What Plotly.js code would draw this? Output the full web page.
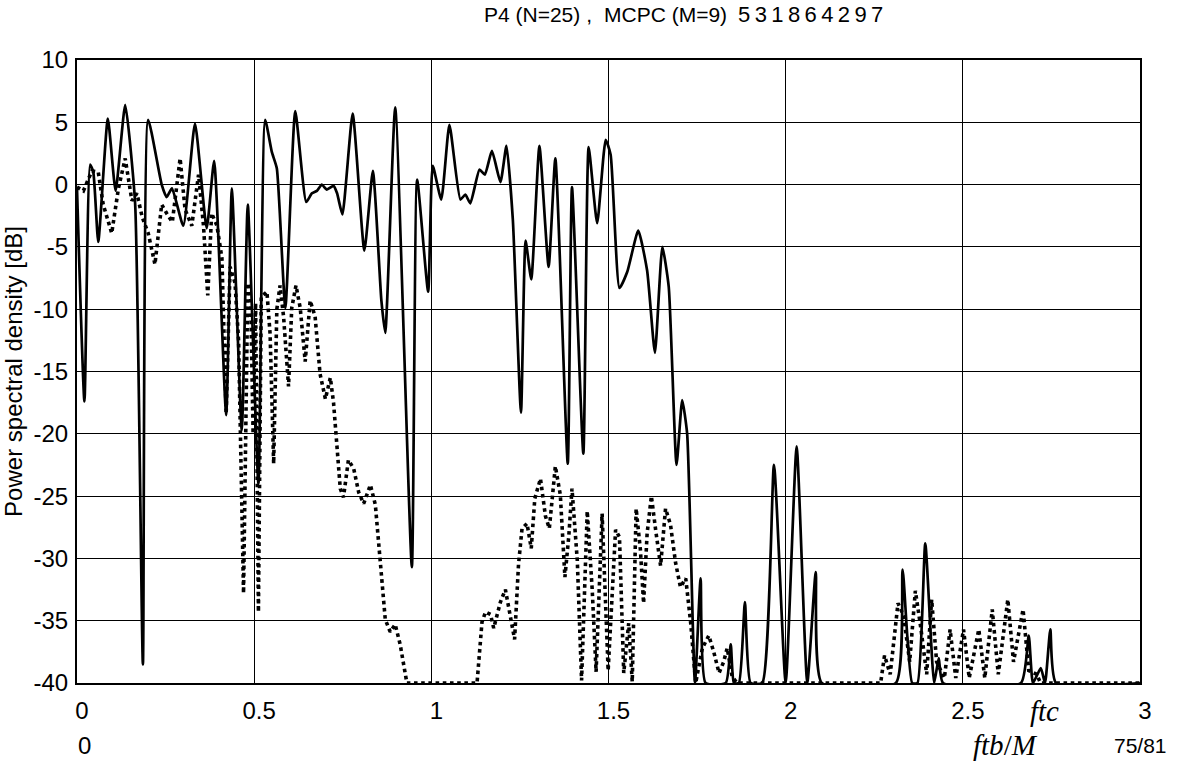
<!DOCTYPE html>
<html>
<head>
<meta charset="utf-8">
<script src="https://cdn.plot.ly/plotly-3.0.1.min.js"></script>
<style>html,body{margin:0;padding:0;background:#fff;}#chart{width:1183px;height:767px;}</style>
</head>
<body>
<div id="chart"></div>
<script>
// Solid curve: P4 (N=25)
var solidX = [0.000,0.021,0.037,0.046,0.060,0.087,0.109,0.136,0.164,0.186,0.201,0.239,0.253,0.268,0.300,0.333,0.366,0.387,0.421,0.437,0.465,0.482,0.512,0.531,0.550,0.564,0.588,0.616,0.647,0.663,0.677,0.691,0.705,0.724,0.734,0.749,0.778,0.811,0.835,0.859,0.870,0.898,0.945,0.960,0.991,1.004,1.028,1.051,1.082,1.096,1.110,1.136,1.151,1.171,1.195,1.212,1.230,1.253,1.266,1.282,1.305,1.331,1.350,1.385,1.397,1.429,1.444,1.468,1.492,1.506,1.531,1.553,1.584,1.609,1.631,1.652,1.670,1.692,1.708,1.722,1.744,1.760,1.774,1.831,1.845,1.854,1.868,1.885,1.901,1.934,1.967,2.000,2.031,2.061,2.085,2.102,2.311,2.330,2.357,2.372,2.394,2.419,2.432,2.444,2.664,2.686,2.698,2.720,2.732,2.747,2.763,3.000];
var solidY = [-0.3,-17.4,1.6,1.0,-4.6,5.3,-0.5,6.4,-1.5,-38.5,5.2,0.0,-1.0,-0.3,-3.3,4.9,-3.5,1.9,-18.5,-0.3,-19.7,-1.6,-24.0,5.2,2.6,1.3,-9.9,5.9,-1.4,-0.7,-0.5,0.0,-0.4,-0.1,-0.7,-2.4,5.7,-5.3,1.1,-9.3,-11.9,6.2,-30.7,0.4,-8.6,1.5,-1.2,4.8,-1.2,-0.8,-1.5,1.2,0.8,2.7,0.2,3.1,-2.8,-18.3,-4.5,-7.6,3.1,-6.6,2.1,-22.4,-0.2,-21.6,3.0,-3.1,3.6,2.4,-8.3,-7.0,-3.7,-6.9,-13.5,-5.0,-8.2,-22.5,-17.3,-20.0,-40,-31.6,-40,-40,-36.9,-40,-40,-33.5,-40,-40,-22.5,-40,-21.0,-40,-31.1,-40,-40,-30.9,-40,-40,-28.8,-40,-38.0,-40,-40,-36.2,-40,-38.8,-40,-35.7,-40,-40];

// Dotted curve: MCPC (M=9) 531864297
var dottedX = [0.000,0.018,0.042,0.060,0.074,0.098,0.117,0.136,0.155,0.169,0.184,0.201,0.220,0.239,0.253,0.269,0.291,0.305,0.324,0.343,0.357,0.369,0.380,0.395,0.409,0.421,0.432,0.446,0.456,0.470,0.482,0.490,0.497,0.504,0.512,0.520,0.536,0.545,0.555,0.564,0.573,0.583,0.597,0.606,0.618,0.630,0.644,0.658,0.672,0.686,0.701,0.715,0.724,0.734,0.743,0.752,0.766,0.781,0.795,0.809,0.828,0.842,0.856,0.870,0.884,0.898,0.912,0.931,1.129,1.143,1.153,1.167,1.176,1.195,1.209,1.223,1.235,1.246,1.256,1.270,1.282,1.292,1.308,1.322,1.333,1.350,1.364,1.377,1.388,1.397,1.412,1.424,1.440,1.454,1.465,1.482,1.499,1.520,1.531,1.543,1.557,1.567,1.578,1.590,1.599,1.609,1.621,1.633,1.647,1.661,1.675,1.689,1.703,1.718,1.732,1.746,1.765,1.783,1.797,1.812,1.825,1.835,1.849,1.863,2.268,2.279,2.295,2.317,2.333,2.350,2.366,2.382,2.398,2.412,2.426,2.448,2.464,2.480,2.502,2.518,2.545,2.562,2.583,2.600,2.627,2.643,2.670,2.686,2.709,2.719,3.000];
var dottedY = [-0.2,-0.5,1.1,1.0,-1.6,-3.9,-0.3,2.1,-1.3,-0.7,-2.6,-3.9,-6.4,-1.6,-2.3,-3.0,2.1,-2.0,-3.3,0.8,-3.3,-8.9,-2.3,-3.3,-5.9,-18.4,-6.6,-7.9,-12.5,-32.8,-7.9,-9.0,-20.0,-9.5,-34.3,-9.0,-8.6,-12.0,-22.4,-10.0,-8.1,-10.6,-16.2,-9.9,-8.1,-9.9,-14.2,-9.3,-10.6,-15.2,-17.2,-15.5,-17.5,-21.1,-24.4,-25.1,-22.1,-22.8,-24.7,-25.6,-24.1,-25.7,-30.0,-34.9,-35.9,-35.3,-36.9,-40,-40,-35.1,-34.3,-34.5,-35.6,-33.5,-32.5,-34.5,-36.5,-30.5,-27.6,-27.2,-29.2,-25.2,-23.6,-26.6,-27.6,-22.6,-24.9,-31.5,-28.2,-24.4,-30.2,-39.8,-26.2,-32.5,-39.1,-26.4,-39.0,-27.7,-28.3,-39.2,-35.2,-39.9,-26.0,-29.3,-33.6,-28.0,-25.0,-27.7,-30.6,-26.0,-27.3,-30.3,-32.3,-31.6,-35.2,-40,-37.2,-36.2,-37.5,-39.2,-38.3,-37.2,-39.5,-40,-40,-37.8,-39.3,-33.6,-34.6,-38.3,-32.6,-35.7,-39.3,-33.3,-38.3,-39.6,-35.7,-39.6,-35.7,-39.6,-35.7,-39.6,-34.1,-39.3,-33.3,-38.3,-34.1,-39.0,-39.3,-40,-40];

var xTickVals = [0, 0.5, 1, 1.5, 2, 2.5, 3];
var xTickText = ['0', '0.5', '1', '1.5', '2', '2.5', '3'];
var yTickVals = [10, 5, 0, -5, -10, -15, -20, -25, -30, -35, -40];
var yTickText = ['10', '5', '0', '-5', '-10', '-15', '-20', '-25', '-30', '-35', '-40'];

var FONT = 'Liberation Sans, Arial, sans-serif';
var SERIF = 'Liberation Serif, Times New Roman, serif';

var traces = [
  {x: solidX, y: solidY, type: 'scatter', mode: 'lines', name: 'P4 (N=25)',
   line: {color: '#000', width: 2.7, shape: 'spline', smoothing: 0.5}},
  {x: dottedX, y: dottedY, type: 'scatter', mode: 'lines', name: 'MCPC (M=9)',
   line: {color: '#000', width: 3.6, dash: 'dot'}}
];

function ann(text, px, yshift, size, fam, anchor) {
  return {text: text, xref: 'paper', yref: 'paper', x: (px - 77) / 1063, y: 1, yshift: yshift,
          xanchor: anchor || 'left', yanchor: 'middle', showarrow: false, borderpad: 0,
          font: {size: size, family: fam}};
}

var layout = {
  width: 1183, height: 767,
  paper_bgcolor: '#fff', plot_bgcolor: '#fff',
  showlegend: false,
  margin: {l: 77, r: 43, t: 60, b: 84},
  font: {family: FONT, color: '#000', size: 21},
  xaxis: {
    range: [0, 3], tickvals: xTickVals, ticktext: xTickText,
    showgrid: true, gridcolor: '#000', gridwidth: 1,
    showline: true, mirror: true, linecolor: '#000', linewidth: 2,
    zeroline: false, ticks: '', tickfont: {size: 24, family: FONT},
    ticklabelshift: 5, ticklabelstandoff: 5,
    fixedrange: true
  },
  yaxis: {
    range: [-40, 10], tickvals: yTickVals, ticktext: yTickText,
    showgrid: true, gridcolor: '#000', gridwidth: 1,
    showline: true, mirror: true, linecolor: '#000', linewidth: 2,
    zeroline: false, ticks: '', tickfont: {size: 24, family: FONT},
    ticklabelstandoff: 2,
    title: {text: 'Power spectral density [dB]', font: {size: 24, family: FONT}, standoff: 6},
    fixedrange: true
  },
  annotations: [
    ann('P4 (N=25) ,', 483, 46, 21, FONT),
    ann('MCPC (M=9)', 603, 46, 21, FONT),
    ann('5&#8201;3&#8201;1&#8201;8&#8201;6&#8201;4&#8201;2&#8201;9&#8201;7', 737, 46, 22, FONT),
    {text: '<i>ftc</i>', xref: 'x', yref: 'paper', x: 2.73, y: 0, yshift: -28,
     xanchor: 'center', yanchor: 'middle', showarrow: false, font: {size: 29, family: SERIF}},
    {text: '<i>ftb</i>/<i>M</i>', xref: 'x', yref: 'paper', x: 2.62, y: 0, yshift: -62,
     xanchor: 'center', yanchor: 'middle', showarrow: false, font: {size: 29, family: SERIF}},
    {text: '0', xref: 'x', yref: 'paper', x: 0.022, y: 0, yshift: -62,
     xanchor: 'center', yanchor: 'middle', showarrow: false, font: {size: 24, family: FONT}},
    {text: '75/81', xref: 'x', yref: 'paper', x: 3.0, y: 0, yshift: -62,
     xanchor: 'center', yanchor: 'middle', showarrow: false, font: {size: 21, family: FONT}}
  ]
};

Plotly.newPlot('chart', traces, layout, {displayModeBar: false, staticPlot: true});
</script>
</body>
</html>
